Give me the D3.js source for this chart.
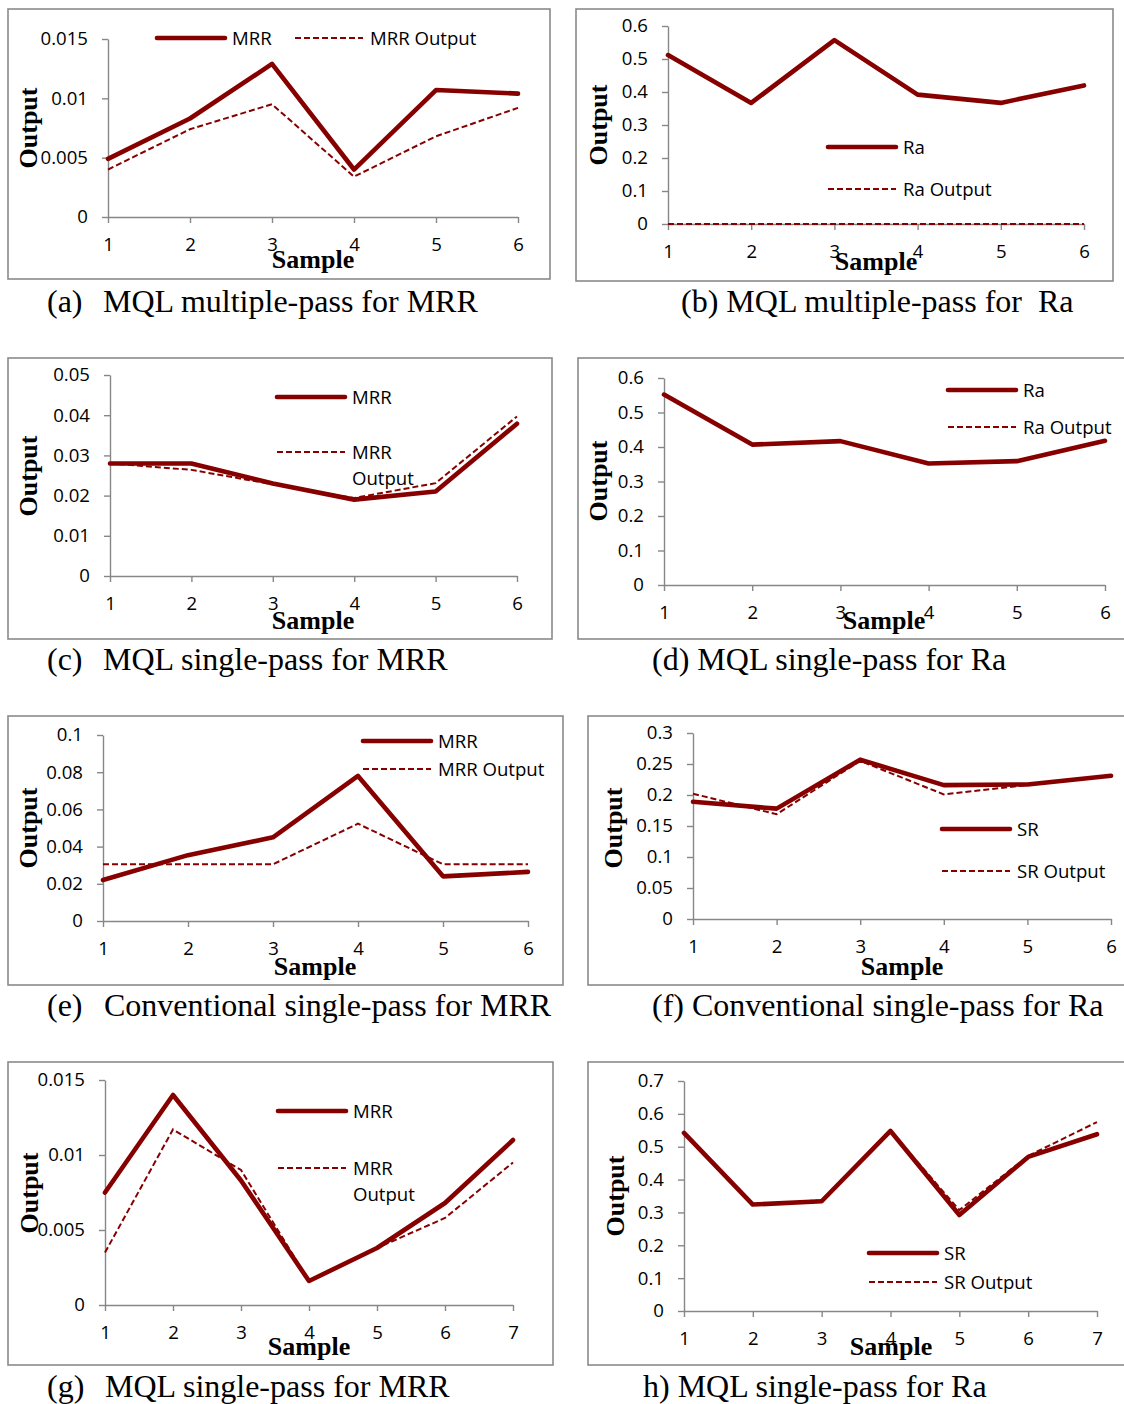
<!DOCTYPE html>
<html><head><meta charset="utf-8">
<script src="https://cdn.jsdelivr.net/npm/d3@7"></script>
<style>body{margin:0;background:#fff}svg{display:block}</style>
</head><body><svg id="c" width="1124" height="1404"></svg>
<script>
// ---------- data ----------
const samples6 = [1, 2, 3, 4, 5, 6];
const samples7 = [1, 2, 3, 4, 5, 6, 7];

const aMRR       = [0.0049, 0.0083, 0.0129, 0.0040, 0.0107, 0.0104];
const aMRROutput = [0.0040, 0.0074, 0.0095, 0.0034, 0.0068, 0.0092];
const aTicks      = [0, 0.005, 0.01, 0.015];
const aTickLabels = ["0", "0.005", "0.01", "0.015"];
const aLegend = ["MRR", "MRR Output"];

const bRa       = [0.512, 0.367, 0.557, 0.392, 0.367, 0.420];
const bRaOutput = [0, 0, 0, 0, 0, 0];
const bTicks      = [0, 0.1, 0.2, 0.3, 0.4, 0.5, 0.6];
const bTickLabels = ["0", "0.1", "0.2", "0.3", "0.4", "0.5", "0.6"];
const bLegend = ["Ra", "Ra Output"];

const cMRR       = [0.0280, 0.0280, 0.0230, 0.0190, 0.0210, 0.0379];
const cMRROutput = [0.0280, 0.0264, 0.0228, 0.0194, 0.0231, 0.0397];
const cTicks      = [0, 0.01, 0.02, 0.03, 0.04, 0.05];
const cTickLabels = ["0", "0.01", "0.02", "0.03", "0.04", "0.05"];
const cLegend = ["MRR", "MRR\nOutput"];

const dRa       = [0.552, 0.407, 0.417, 0.352, 0.359, 0.418];
const dRaOutput = [0.552, 0.407, 0.417, 0.352, 0.359, 0.418];
const dTicks      = [0, 0.1, 0.2, 0.3, 0.4, 0.5, 0.6];
const dTickLabels = ["0", "0.1", "0.2", "0.3", "0.4", "0.5", "0.6"];
const dLegend = ["Ra", "Ra Output"];

const eMRR       = [0.0220, 0.0354, 0.0450, 0.0780, 0.0240, 0.0264];
const eMRROutput = [0.0305, 0.0305, 0.0305, 0.0523, 0.0305, 0.0305];
const eTicks      = [0, 0.02, 0.04, 0.06, 0.08, 0.1];
const eTickLabels = ["0", "0.02", "0.04", "0.06", "0.08", "0.1"];
const eLegend = ["MRR", "MRR Output"];

const fSR       = [0.189, 0.178, 0.257, 0.216, 0.217, 0.231];
const fSROutput = [0.202, 0.169, 0.255, 0.201, 0.216, 0.231];
const fTicks      = [0, 0.05, 0.1, 0.15, 0.2, 0.25, 0.3];
const fTickLabels = ["0", "0.05", "0.1", "0.15", "0.2", "0.25", "0.3"];
const fLegend = ["SR", "SR Output"];

const gMRR       = [0.0075, 0.0140, 0.0083, 0.0016, 0.0038, 0.0068, 0.0110];
const gMRROutput = [0.0035, 0.0117, 0.0090, 0.0016, 0.0038, 0.0058, 0.0095];
const gTicks      = [0, 0.005, 0.01, 0.015];
const gTickLabels = ["0", "0.005", "0.01", "0.015"];
const gLegend = ["MRR", "MRR\nOutput"];

const hSR       = [0.542, 0.324, 0.334, 0.548, 0.292, 0.469, 0.538];
const hSROutput = [0.542, 0.324, 0.337, 0.548, 0.307, 0.472, 0.575];
const hTicks      = [0, 0.1, 0.2, 0.3, 0.4, 0.5, 0.6, 0.7];
const hTickLabels = ["0", "0.1", "0.2", "0.3", "0.4", "0.5", "0.6", "0.7"];
const hLegend = ["SR", "SR Output"];

const captions = [
  ["(a)", "MQL multiple-pass for MRR"],
  ["", "(b) MQL multiple-pass for  Ra"],
  ["(c)", "MQL single-pass for MRR"],
  ["", "(d) MQL single-pass for Ra"],
  ["(e)", "Conventional single-pass for MRR"],
  ["", "(f) Conventional single-pass for Ra"],
  ["(g)", "MQL single-pass for MRR"],
  ["", "h) MQL single-pass for Ra"]
];
const yTitle = "Output";
const xTitle = "Sample";

// ---------- layout ----------
const RED = "#870000";
const SANS = "'Open Sans', 'DejaVu Sans', sans-serif";
const SERIF = "'Liberation Serif', 'Times New Roman', serif";
const TICK_FS = 18.6;
const CAP_FS = 32;

const panels = [
  {x: samples6, s1: aMRR, s2: aMRROutput, ticks: aTicks, labels: aTickLabels, legend: aLegend, cap: captions[0],
   frame: [8, 9, 542, 270], px: [108, 518], py: [217, 39],
   yt: [37, 128], xt: [313, 268], leg: [[157, 38], [295, 38]], capPos: [47, 103, 312]},
  {x: samples6, s1: bRa, s2: bRaOutput, ticks: bTicks, labels: bTickLabels, legend: bLegend, cap: captions[1],
   frame: [576, 9, 537, 272], px: [668, 1084], py: [224, 26],
   yt: [607, 125], xt: [876, 270], leg: [[828, 147], [828, 189]], capPos: [681, 681, 312]},
  {x: samples6, s1: cMRR, s2: cMRROutput, ticks: cTicks, labels: cTickLabels, legend: cLegend, cap: captions[2],
   frame: [8, 358, 544, 281], px: [110, 517], py: [576, 375],
   yt: [37, 476], xt: [313, 629], leg: [[277, 397], [277, 452]], capPos: [47, 103, 670]},
  {x: samples6, s1: dRa, s2: dRaOutput, ticks: dTicks, labels: dTickLabels, legend: dLegend, cap: captions[3],
   frame: [578, 358, 580, 281], px: [664, 1105], py: [585, 378],
   yt: [607, 481], xt: [884, 629], leg: [[948, 390], [948, 427]], capPos: [652, 652, 670]},
  {x: samples6, s1: eMRR, s2: eMRROutput, ticks: eTicks, labels: eTickLabels, legend: eLegend, cap: captions[4],
   frame: [8, 716, 555, 269], px: [103, 528], py: [921, 735],
   yt: [37, 828], xt: [315, 975], leg: [[363, 741], [363, 769]], capPos: [47, 104, 1016]},
  {x: samples6, s1: fSR, s2: fSROutput, ticks: fTicks, labels: fTickLabels, legend: fLegend, cap: captions[5],
   frame: [588, 716, 580, 269], px: [693, 1111], py: [919, 733],
   yt: [622, 828], xt: [902, 975], leg: [[942, 829], [942, 871]], capPos: [652, 652, 1016]},
  {x: samples7, s1: gMRR, s2: gMRROutput, ticks: gTicks, labels: gTickLabels, legend: gLegend, cap: captions[6],
   frame: [8, 1062, 545, 303], px: [105, 513], py: [1305, 1080],
   yt: [38, 1193], xt: [309, 1355], leg: [[278, 1111], [278, 1168]], capPos: [47, 105, 1397]},
  {x: samples7, s1: hSR, s2: hSROutput, ticks: hTicks, labels: hTickLabels, legend: hLegend, cap: captions[7],
   frame: [588, 1062, 580, 303], px: [684, 1097], py: [1311, 1081],
   yt: [624, 1196], xt: [891, 1355], leg: [[869, 1253], [869, 1282]], capPos: [643, 643, 1397]}
];

const svg = d3.select("#c");

panels.forEach(p => {
  const g = svg.append("g");
  const [fx, fy, fw, fh] = p.frame;
  g.append("rect").attr("x", fx).attr("y", fy).attr("width", fw).attr("height", fh)
    .attr("fill", "none").attr("stroke", "#8a8a8a").attr("stroke-width", 1.6);

  const n = p.x.length;
  const xs = d3.scaleLinear().domain([1, n]).range(p.px);
  const ymax = p.ticks[p.ticks.length - 1];
  const ys = d3.scaleLinear().domain([0, ymax]).range(p.py);

  const yAxis = d3.axisLeft(ys).tickValues(p.ticks)
    .tickFormat((d, i) => p.labels[i]).tickSize(6).tickSizeOuter(0).tickPadding(14);
  const xAxis = d3.axisBottom(xs).tickValues(p.x)
    .tickFormat(d => String(d)).tickSize(6).tickSizeOuter(0).tickPadding(15);

  const ga = g.append("g").attr("transform", `translate(${p.px[0]},0)`).call(yAxis);
  const gb = g.append("g").attr("transform", `translate(0,${p.py[0]})`).call(xAxis);
  [ga, gb].forEach(a => {
    a.selectAll("path, line").attr("stroke", "#878787").attr("stroke-width", 1.4);
    a.selectAll("text").attr("font-family", SANS).attr("font-size", TICK_FS).attr("fill", "#000");
  });

  const line = d3.line().x((d, i) => xs(p.x[i])).y(d => ys(d));
  g.append("path").datum(p.s1).attr("d", line).attr("fill", "none")
    .attr("stroke", RED).attr("stroke-width", 4.6).attr("stroke-linejoin", "round").attr("stroke-linecap", "round");
  g.append("path").datum(p.s2).attr("d", line).attr("fill", "none")
    .attr("stroke", RED).attr("stroke-width", 2).attr("stroke-dasharray", "6,3");

  // legend
  p.legend.forEach((name, i) => {
    const [lx, ly] = p.leg[i];
    g.append("line").attr("x1", lx).attr("x2", lx + 68).attr("y1", ly).attr("y2", ly)
      .attr("stroke", RED).attr("stroke-width", i === 0 ? 4.6 : 2)
      .attr("stroke-linecap", i === 0 ? "round" : "butt")
      .attr("stroke-dasharray", i === 0 ? null : "6,3");
    name.split("\n").forEach((t, k) => {
      g.append("text").attr("x", lx + 75).attr("y", ly + k * 26).attr("dy", "0.35em")
        .attr("font-family", SANS).attr("font-size", TICK_FS).attr("fill", "#000").text(t);
    });
  });

  // axis titles
  g.append("text").attr("transform", `translate(${p.yt[0]},${p.yt[1]}) rotate(-90)`)
    .attr("text-anchor", "middle").attr("font-family", SERIF).attr("font-weight", "bold")
    .attr("font-size", 26).text(yTitle);
  g.append("text").attr("x", p.xt[0]).attr("y", p.xt[1]).attr("text-anchor", "middle")
    .attr("font-family", SERIF).attr("font-weight", "bold").attr("font-size", 26).text(xTitle);

  // caption
  const [c1, c2, cy] = p.capPos;
  if (p.cap[0]) {
    g.append("text").attr("x", c1).attr("y", cy).attr("font-family", SERIF)
      .attr("font-size", CAP_FS).text(p.cap[0]);
  }
  g.append("text").attr("x", c2).attr("y", cy).attr("font-family", SERIF)
    .attr("font-size", CAP_FS).style("white-space", "pre").text(p.cap[1]);
});
</script></body></html>
